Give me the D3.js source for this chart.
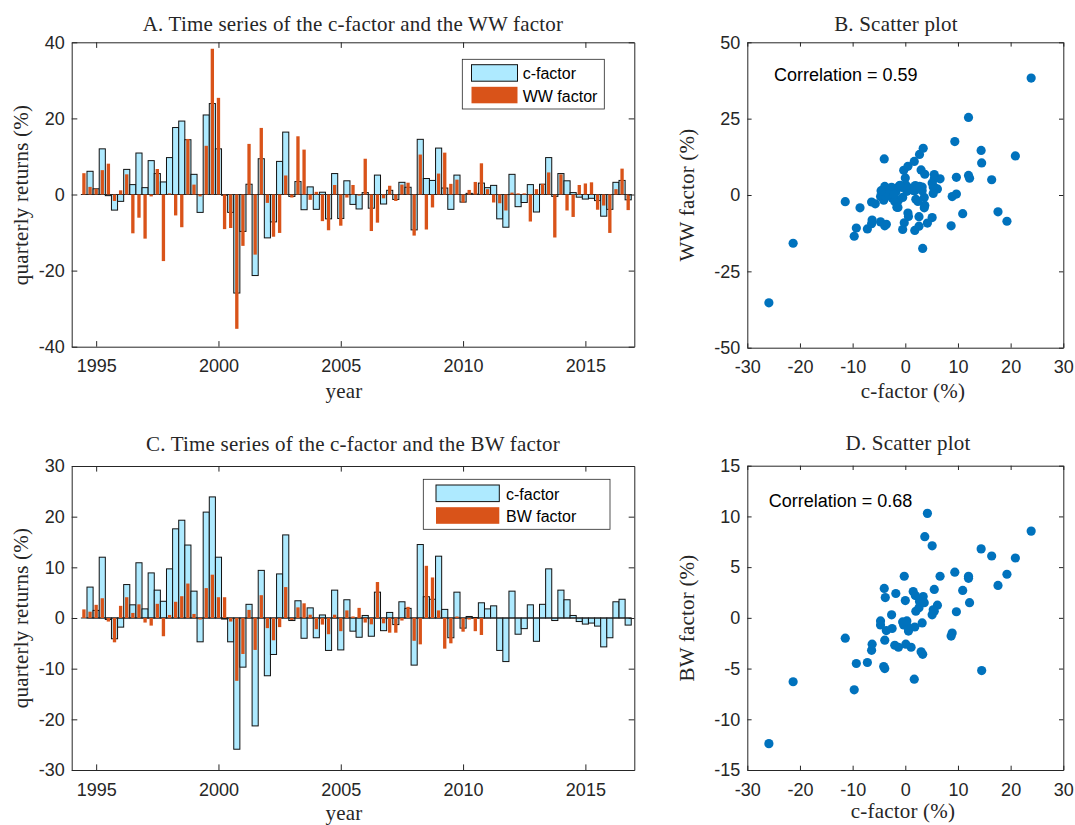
<!DOCTYPE html>
<html>
  <head>
    <meta charset="UTF-8">
    <script src="https://cdn.jsdelivr.net/npm/d3@7"></script>
    <style>
      body { margin: 0; background: #fff; }
      .serif { font-family: "Liberation Serif", "Times New Roman", serif; font-size: 21px; letter-spacing: 0.2px; fill: #262626; }
      .tick text { font-family: "Liberation Sans", Arial, sans-serif; font-size: 18px; fill: #262626; }
      .tick line, .domain { stroke: #262626; }
      .sans { font-family: "Liberation Sans", Arial, sans-serif; fill: #000; }
    </style>
  </head>
  <body>
    <svg id="chart" width="1075" height="825"></svg>
    <script type="text/javascript">
      // quarterly returns (%), first quarter = 1994.5, one value per quarter
      var firstQuarter = 1994.5;
      var cFactor = [0, 6.1, 1.5, 12.0, -0.3, -4.1, -1.8, 6.6, 2.6, 10.9,
        1.8, 8.9, 5.5, 3.3, 9.7, 17.6, 19.3, 14.4, 5.3, -4.7,
        20.9, 23.9, 12.0, -0.2, -4.7, -25.9, -9.7, 2.7, -21.3, 9.4,
        -11.4, -7.2, 8.7, 16.4, -0.5, 3.4, -4.0, 2.0, -3.9, 0.6,
        -6.4, 5.5, -6.3, 3.6, -2.6, -3.8, 0.5, -3.6, 5.1, -2.5,
        1.1, -1.3, 3.2, 1.9, -9.3, 14.5, 4.2, 3.7, 12.2, 1.7,
        -3.9, 5.1, -2.0, 0.3, 0.1, 3.0, 1.8, 2.4, -6.4, -8.6,
        5.3, -3.2, -2.1, 2.6, -4.6, 2.7, 9.7, -0.5, 5.5, 3.6,
        0.5, -0.7, -1.2, -1.0, -1.6, -5.7, -3.9, 3.2, 3.7, -1.4];
      var wwFactor = [5.6, 2.0, 1.5, 6.4, 8.1, -1.7, 1.1, 5.3, -10.2, -6.1,
        -11.6, -0.5, 6.7, -17.5, 0.3, -5.5, -8.6, 14.6, 2.6, -0.5,
        12.8, 38.3, 25.4, -9.1, -8.8, -35.3, -13.5, 13.3, -15.8, 17.5,
        -2.2, -11.1, -10.1, 5.0, -0.8, 15.3, 11.8, -1.4, 0.7, -7.0,
        -9.4, 2.5, -8.2, -0.8, 2.5, -0.3, 9.4, -9.6, -7.4, -1.0,
        2.3, -1.7, 2.6, 3.1, -10.8, 10.5, -9.2, -3.4, 5.5, 11.0,
        2.8, 3.9, -2.1, 1.2, 3.3, 8.2, 1.4, -2.1, -2.3, -4.2,
        0.5, 0.3, 0.3, -7.1, 1.4, 2.8, 5.8, -11.3, 5.3, -4.2,
        -5.9, 2.5, 2.9, 3.2, -4.0, -2.9, -10.1, 1.4, 6.8, -4.1];
      // BW factor stops in 2010
      var bwFactor = [1.7, 1.25, 2.6, 3.9, -0.7, -4.8, 2.4, 4.1, 1.0, 2.7,
        -0.9, -1.5, 2.8, -3.6, 0.6, 3.2, 4.3, 6.8, 0.8, -0.3,
        5.9, 8.55, 4.1, 4.1, -0.7, -12.4, -7.1, 1.6, -6.3, 4.5,
        -2.0, -4.4, -1.8, 6.1, -0.4, 2.1, 2.9, 0.65, -2.2, -1.3,
        -3.2, 0.65, -2.6, 1.5, 0.3, 2.0, -0.9, -1.25, 7.1, -1.05,
        -2.9, -2.9, -0.5, 2.2, -4.5, -5.2, 10.3, 8.0, 1.5, -6.05,
        -5.0, 0.3, -2.7, -0.3, -2.6, -3.35];

      var yearTicks = [1995, 2000, 2005, 2010, 2015];
      var retTicksA = [-40, -20, 0, 20, 40];
      var retTicksC = [-30, -20, -10, 0, 10, 20, 30];
      var cTicks = [-30, -20, -10, 0, 10, 20, 30];
      var wwTicks = [-50, -25, 0, 25, 50];
      var bwTicks = [-15, -10, -5, 0, 5, 10, 15];

      var dates = cFactor.map(function(d, i) { return firstQuarter + 0.25 * i; });

      var svg = d3.select('#chart');
      svg.append('rect').attr('width', 1075).attr('height', 825).attr('fill', '#fff');

      var fmt = function(d) { return String(d); };

      // box with inward ticks on all four sides
      function frame(g, x, y, xt, yt, len) {
        var r = x.range(), b = y.range();
        g.append('g').attr('transform', 'translate(0,' + b[0] + ')')
          .call(d3.axisBottom(x).tickValues(xt).tickFormat(fmt).tickSizeInner(-len).tickSizeOuter(0).tickPadding(13));
        g.append('g').attr('transform', 'translate(0,' + b[1] + ')')
          .call(d3.axisTop(x).tickValues(xt).tickFormat('').tickSizeInner(-len).tickSizeOuter(0));
        g.append('g').attr('transform', 'translate(' + r[0] + ',0)')
          .call(d3.axisLeft(y).tickValues(yt).tickFormat(fmt).tickSizeInner(-len).tickSizeOuter(0).tickPadding(7));
        g.append('g').attr('transform', 'translate(' + r[1] + ',0)')
          .call(d3.axisRight(y).tickValues(yt).tickFormat('').tickSizeInner(-len).tickSizeOuter(0));
        g.selectAll('.domain').attr('stroke-width', 1);
      }

      function label(txt, x, y, rot) {
        var t = svg.append('text').attr('class', 'serif').attr('text-anchor', 'middle').text(txt);
        if (rot) t.attr('transform', 'translate(' + x + ',' + y + ') rotate(-90)');
        else t.attr('x', x).attr('y', y);
      }

      function timeSeries(top, other, yDomain, yt, legendBox, names) {
        var g = svg.append('g');
        var x = d3.scaleLinear().domain([1994, 2017]).range([71.7, 634.3]);
        var y = d3.scaleLinear().domain(yDomain).range(top);

        g.selectAll('rect.c').data(cFactor).enter().append('rect')
          .attr('class', 'c')
          .attr('x', function(d, i) { return x(dates[i] - 0.125); })
          .attr('width', function(d, i) { return x(dates[i] + 0.125) - x(dates[i] - 0.125); })
          .attr('y', function(d) { return y(Math.max(0, d)); })
          .attr('height', function(d) { return Math.abs(y(d) - y(0)); })
          .attr('fill', '#aeeaff').attr('stroke', '#111').attr('stroke-width', 1);

        g.append('line')
          .attr('x1', x(dates[0] - 0.125)).attr('x2', x(dates[dates.length - 1] + 0.125))
          .attr('y1', y(0)).attr('y2', y(0))
          .attr('stroke', '#262626').attr('stroke-width', 1);

        g.selectAll('rect.o').data(other).enter().append('rect')
          .attr('class', 'o')
          .attr('x', function(d, i) { return x(dates[i] - 0.068); })
          .attr('width', function(d, i) { return x(dates[i] + 0.068) - x(dates[i] - 0.068); })
          .attr('y', function(d) { return y(Math.max(0, d)); })
          .attr('height', function(d) { return Math.abs(y(d) - y(0)); })
          .attr('fill', '#d95319');

        frame(g, x, y, yearTicks, yt, 5.6);

        // legend
        var L = legendBox;
        var lg = svg.append('g');
        lg.append('rect').attr('x', L.x).attr('y', L.y).attr('width', L.w).attr('height', L.h)
          .attr('fill', '#fff').attr('stroke', '#262626').attr('stroke-width', 0.8);
        lg.append('rect').attr('x', L.sx).attr('y', L.s1).attr('width', L.sw).attr('height', L.sh)
          .attr('fill', '#aeeaff').attr('stroke', '#111').attr('stroke-width', 1);
        lg.append('rect').attr('x', L.sx).attr('y', L.s2).attr('width', L.sw).attr('height', L.sh)
          .attr('fill', '#d95319');
        lg.append('text').attr('class', 'sans').attr('font-size', 16)
          .attr('x', L.tx).attr('y', L.t1).text(names[0]);
        lg.append('text').attr('class', 'sans').attr('font-size', 16)
          .attr('x', L.tx).attr('y', L.t2).text(names[1]);
      }

      function scatter(yRange, yDomain, yt, other, corr, cx, cy) {
        var g = svg.append('g');
        var x = d3.scaleLinear().domain([-30, 30]).range([747.3, 1063.3]);
        var y = d3.scaleLinear().domain(yDomain).range(yRange);
        var pts = other.map(function(d, i) { return [cFactor[i], d]; });
        g.selectAll('circle').data(pts).enter().append('circle')
          .attr('cx', function(d) { return x(d[0]); })
          .attr('cy', function(d) { return y(d[1]); })
          .attr('r', 4.6)
          .attr('fill', '#0072bd');
        frame(g, x, y, cTicks, yt, 4.3);
        svg.append('text').attr('class', 'sans').attr('font-size', 18)
          .attr('x', cx).attr('y', cy).text(corr);
      }

      // A
      timeSeries([346.7, 42.3], wwFactor, [-40, 40], retTicksA,
        { x: 462.3, y: 59.3, w: 142, h: 49.7, sx: 471.5, sw: 46, sh: 16.5, s1: 64.7, s2: 86.8, tx: 522.7, t1: 79, t2: 102 },
        ['c-factor', 'WW factor']);
      label('A. Time series of the c-factor and the WW factor', 353, 31);
      label('year', 344, 398);
      label('quarterly returns (%)', 28, 195, true);

      // B
      scatter([347.7, 42.3], [-50, 50], wwTicks, wwFactor, 'Correlation = 0.59', 774, 81);
      label('B. Scatter plot', 896, 31);
      label('c-factor (%)', 913, 398);
      label('WW factor (%)', 694, 195, true);

      // C
      timeSeries([770, 466], bwFactor, [-30, 30], retTicksC,
        { x: 423.3, y: 479.3, w: 186.7, h: 50, sx: 436, sw: 63.3, sh: 16.6, s1: 485, s2: 507.2, tx: 506, t1: 499.5, t2: 522 },
        ['c-factor', 'BW factor']);
      label('C. Time series of the c-factor and the BW factor', 353, 451);
      label('year', 344, 820);
      label('quarterly returns (%)', 28, 618, true);

      // D
      scatter([770, 465.7], [-15, 15], bwTicks, bwFactor, 'Correlation = 0.68', 768.7, 507);
      label('D. Scatter plot', 908, 450);
      label('c-factor (%)', 903, 818);
      label('BW factor (%)', 694, 618, true);
    </script>
  </body>
</html>
